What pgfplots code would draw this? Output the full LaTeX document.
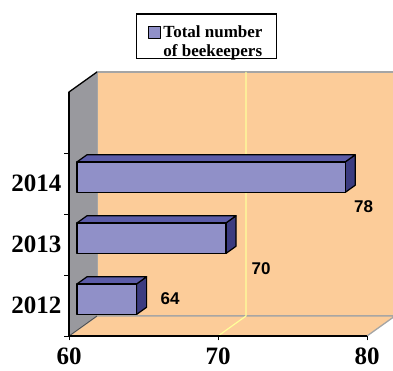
\documentclass[border=0pt]{standalone}
\usepackage{pgfplots}
\pgfplotsset{compat=1.18}
\usepackage{fontspec}
\setmainfont{Liberation Serif}
\newfontfamily\sansb{Liberation Sans}
\definecolor{peach}{RGB}{252,204,153}
\definecolor{wallgray}{RGB}{153,153,158}
\definecolor{edgegray}{RGB}{165,165,165}
\definecolor{barfront}{RGB}{144,144,200}
\definecolor{bartop}{RGB}{92,92,168}
\definecolor{barside}{RGB}{60,60,128}
\definecolor{gridy}{RGB}{255,255,153}
\begin{document}
\begin{tikzpicture}
\begin{axis}[
  scale only axis, width=298pt, height=244pt,
  xmin=60, xmax=80, ymin=0, ymax=4,
  clip=false, axis on top,
  axis lines*=left,
  x axis line style={-, line width=1.2pt},
  y axis line style={-, line width=1.2pt},
  xtick={60,70,80},
  /pgf/number format/assume math mode=true,
  xticklabel style={yshift=-4pt},
  ytick={0,1,2,3}, yticklabels={},
  extra y ticks={0.5,1.5,2.5},
  extra y tick labels={2012,2013,2014},
  extra y tick style={major tick length=0pt, yticklabel style={xshift=-4pt}},
  tick align=outside, major tick length=4.5pt,
  tick style={black, line width=0.9pt},
  ticklabel style={font=\fontsize{25}{25}\selectfont\bfseries},
  legend style={at={(rel axis cs:0.4614,1.3238)}, anchor=north,
    draw=black, line width=1.6pt, fill=white, inner xsep=12pt, inner ysep=3pt,
    font=\fontsize{17}{19}\selectfont\bfseries,
    nodes={inner ysep=7pt}},
]
\coordinate (O) at (axis cs:60,0);
% back wall
\addplot[fill=peach, draw=edgegray, line width=1.3pt, forget plot] coordinates {(61.879,0.328) (81.879,0.328) (81.879,4.328) (61.879,4.328)} -- cycle;
% floor
\addplot[fill=peach, draw=edgegray, line width=1.3pt, forget plot] coordinates {(60,0) (80,0) (81.879,0.328) (61.879,0.328)} -- cycle;
% left wall
\addplot[fill=wallgray, draw=none, forget plot] coordinates {(60,0) (61.879,0.328) (61.879,4.328) (60,4)} -- cycle;
\addplot[black, line width=1.3pt, forget plot] coordinates {(60,0) (60,4) (61.879,4.328)};
\addplot[black!70, line width=0.8pt, forget plot] coordinates {(60,0) (61.879,0.328)};
% gridline at 70
\addplot[gridy, line width=1.2pt, forget plot] coordinates {(70,0) (71.879,0.328) (71.879,4.328)};
% bars
\pgfplotsset{every axis plot/.append style={line width=1.2pt, line join=round}}
% 2012
\addplot[fill=barside, draw=black, forget plot] coordinates {(64.537,0.354) (65.208,0.471) (65.208,0.971) (64.537,0.854)} -- cycle;
\addplot[fill=bartop, draw=black, forget plot] coordinates {(60.537,0.854) (64.537,0.854) (65.208,0.971) (61.208,0.971)} -- cycle;
\addplot[fill=barfront, draw=black, forget plot] coordinates {(60.537,0.354) (64.537,0.354) (64.537,0.854) (60.537,0.854)} -- cycle;
% 2013
\addplot[fill=barside, draw=black, forget plot] coordinates {(70.537,1.354) (71.208,1.471) (71.208,1.971) (70.537,1.854)} -- cycle;
\addplot[fill=bartop, draw=black, forget plot] coordinates {(60.537,1.854) (70.537,1.854) (71.208,1.971) (61.208,1.971)} -- cycle;
\addplot[fill=barfront, draw=black, forget plot] coordinates {(60.537,1.354) (70.537,1.354) (70.537,1.854) (60.537,1.854)} -- cycle;
% 2014
\addplot[fill=barside, draw=black, forget plot] coordinates {(78.537,2.354) (79.208,2.471) (79.208,2.971) (78.537,2.854)} -- cycle;
\addplot[fill=bartop, draw=black, forget plot] coordinates {(60.537,2.854) (78.537,2.854) (79.208,2.971) (61.208,2.971)} -- cycle;
\addplot[fill=barfront, draw=black, forget plot] coordinates {(60.537,2.354) (78.537,2.354) (78.537,2.854) (60.537,2.854)} -- cycle;
% legend
\addlegendimage{legend image code/.code={\draw[fill=barfront, draw=black, line width=1pt] (0pt,-2.1pt) rectangle (12pt,9.9pt);}}
\addlegendentry{\begin{tabular}{@{}l@{}}Total number\\of beekeepers\end{tabular}}
% data labels
\node[font=\sansb\bfseries\fontsize{17}{17}\selectfont] at (axis cs:79.77,2.123) {78};
\node[font=\sansb\bfseries\fontsize{17}{17}\selectfont] at (axis cs:72.89,1.107) {70};
\node[font=\sansb\bfseries\fontsize{17}{17}\selectfont] at (axis cs:66.78,0.607) {64};
\end{axis}
\pgfresetboundingbox
\path (O) ++(-69pt,-35pt) rectangle ++(393pt,371pt);
\end{tikzpicture}
\end{document}
